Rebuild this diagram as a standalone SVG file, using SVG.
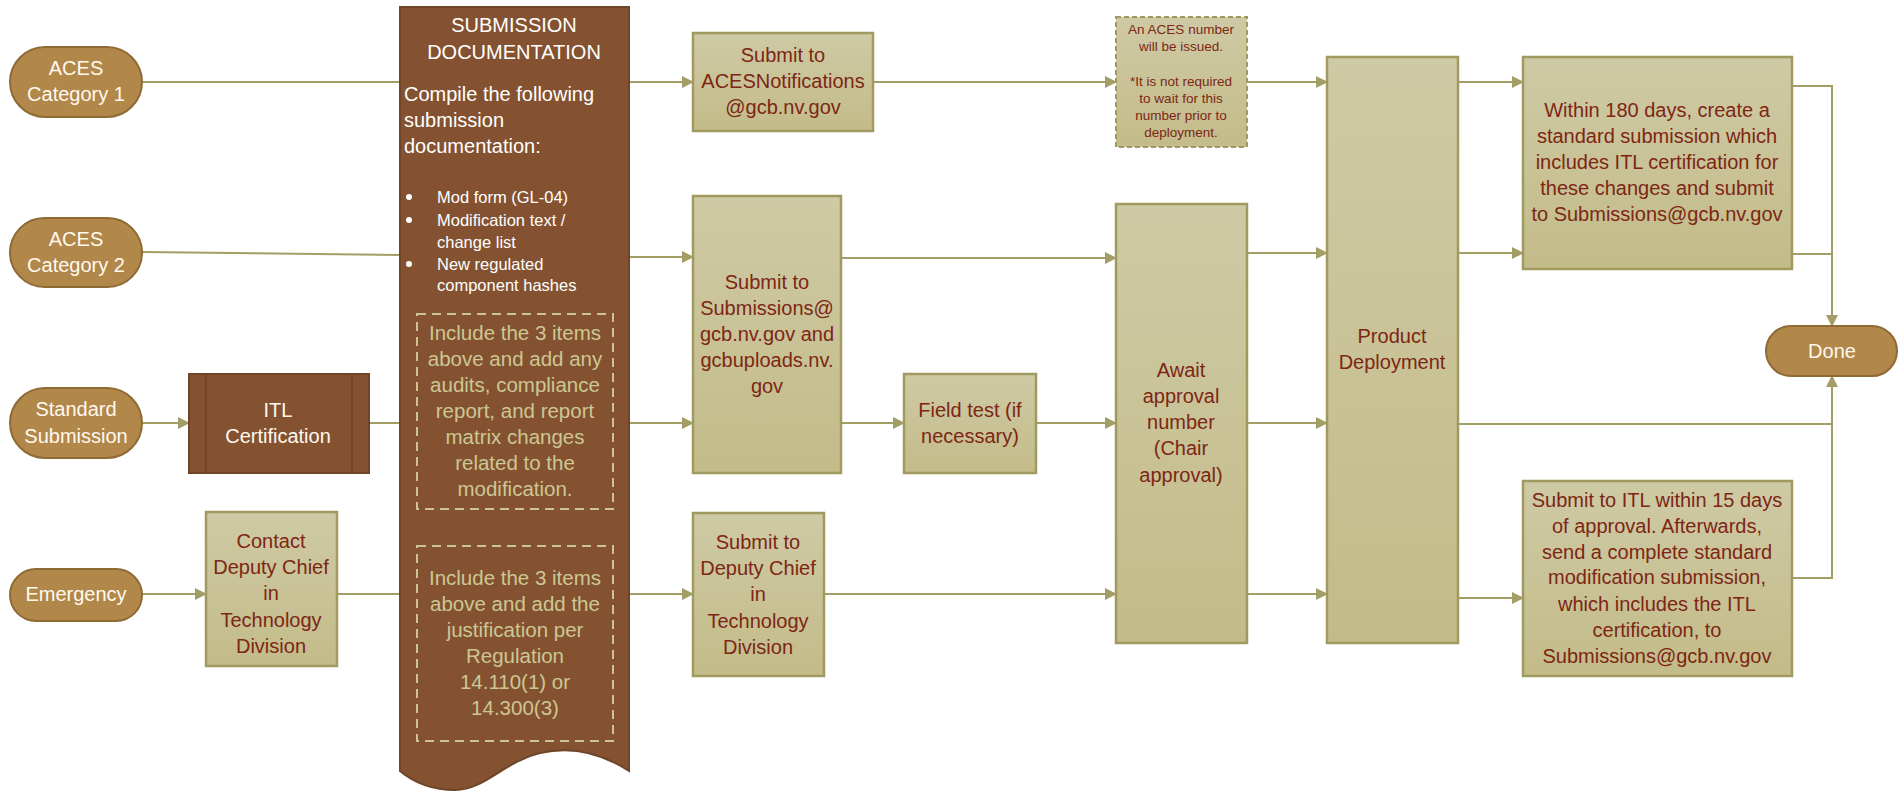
<svg xmlns="http://www.w3.org/2000/svg" width="1902" height="791" viewBox="0 0 1902 791">
<defs>
<linearGradient id="olive" x1="0" y1="0" x2="0" y2="1">
<stop offset="0" stop-color="#CECAA5"/>
<stop offset="1" stop-color="#C3BB88"/>
</linearGradient>
<marker id="arr" markerWidth="12" markerHeight="12" refX="11" refY="6" orient="auto" markerUnits="userSpaceOnUse">
<path d="M0,0 L12,6 L0,12 Z" fill="#A29E66"/>
</marker>
</defs>
<style>
text{font-family:"Liberation Sans",Arial,sans-serif;}
.pill{fill:#B2874A;stroke:#8E6A35;stroke-width:2;}
.pt{fill:#FFF9EF;font-size:20px;text-anchor:middle;}
.brown{fill:#845230;stroke:#6E4526;stroke-width:2;}
.box{fill:url(#olive);stroke:#A09A60;stroke-width:2.5;}
.note{fill:url(#olive);stroke:#A09A60;stroke-width:2;stroke-dasharray:5 3;}
.bt{fill:#7E2614;font-size:20px;text-anchor:middle;}
.nt{fill:#7E2614;font-size:13.5px;text-anchor:middle;}
.wt{fill:#FFFFFF;font-size:20px;}
.wl{fill:#FFFFFF;font-size:16.5px;}
.dash{fill:none;stroke:#CDC394;stroke-width:2;stroke-dasharray:9 6;}
.dt{fill:#CCC794;font-size:20.5px;text-anchor:middle;}
.c{fill:none;stroke:#A29E66;stroke-width:2;}
.ca{fill:none;stroke:#A29E66;stroke-width:2;marker-end:url(#arr);}
.cd{fill:none;stroke:#A29E66;stroke-width:1.2;stroke-dasharray:3 2;}
</style>

<g id="connectors">
<path class="c" d="M142,82 L400,82"/>
<path class="ca" d="M629,82 L693,82"/>
<path class="c" d="M142,252 L400,255"/>
<path class="ca" d="M629,257 L693,257"/>
<path class="ca" d="M142,423 L189,423"/>
<path class="c" d="M369,423 L400,423"/>
<path class="cd" d="M400,423 L417,423"/>
<path class="cd" d="M613,423 L629,423"/>
<path class="ca" d="M629,423 L693,423"/>
<path class="ca" d="M142,594 L206,594"/>
<path class="c" d="M337,594 L400,594"/>
<path class="cd" d="M400,594 L417,594"/>
<path class="cd" d="M613,594 L629,594"/>
<path class="ca" d="M629,594 L693,594"/>
<path class="ca" d="M873,82 L1116,82"/>
<path class="ca" d="M1247,82 L1327,82"/>
<path class="ca" d="M841,258 L1116,258"/>
<path class="ca" d="M841,423 L904,423"/>
<path class="ca" d="M1036,423 L1116,423"/>
<path class="ca" d="M824,594 L1116,594"/>
<path class="ca" d="M1247,253 L1327,253"/>
<path class="ca" d="M1247,423 L1327,423"/>
<path class="ca" d="M1247,594 L1327,594"/>
<path class="ca" d="M1458,82 L1523,82"/>
<path class="ca" d="M1458,253 L1523,253"/>
<path class="ca" d="M1458,598 L1523,598"/>
<path class="c" d="M1792,86 L1832,86 L1832,254"/>
<path class="ca" d="M1792,254 L1832,254 L1832,326"/>
<path class="c" d="M1458,424 L1832,424"/>
<path class="ca" d="M1792,578 L1832,578 L1832,376"/>
</g>

<g id="aces-cat1">
<rect class="pill" x="10" y="47" width="132" height="70" rx="35"/>
<text class="pt" x="76" y="75">ACES</text>
<text class="pt" x="76" y="101">Category 1</text>
</g>
<g id="aces-cat2">
<rect class="pill" x="10" y="218" width="132" height="69" rx="34.5"/>
<text class="pt" x="76" y="246">ACES</text>
<text class="pt" x="76" y="272">Category 2</text>
</g>
<g id="standard-submission">
<rect class="pill" x="10" y="388" width="132" height="70" rx="35"/>
<text class="pt" x="76" y="416">Standard</text>
<text class="pt" x="76" y="443">Submission</text>
</g>
<g id="emergency">
<rect class="pill" x="10" y="569" width="132" height="52" rx="26"/>
<text class="pt" x="76" y="601">Emergency</text>
</g>

<g id="itl-certification">
<rect class="brown" x="189" y="374" width="180" height="99"/>
<line x1="206" y1="374" x2="206" y2="473" stroke="#6E4526" stroke-width="2"/>
<line x1="352" y1="374" x2="352" y2="473" stroke="#6E4526" stroke-width="2"/>
<text class="pt" x="278" y="417">ITL</text>
<text class="pt" x="278" y="443">Certification</text>
</g>

<g id="contact-deputy">
<rect class="box" x="206" y="512" width="131" height="154"/>
<text class="bt" x="271" y="548">Contact</text>
<text class="bt" x="271" y="574">Deputy Chief</text>
<text class="bt" x="271" y="600">in</text>
<text class="bt" x="271" y="627">Technology</text>
<text class="bt" x="271" y="653">Division</text>
</g>

<g id="submission-documentation">
<path class="brown" d="M400,7 L629,7 L629,771 C600,752 570,746 540,753 C505,761 485,790 455,790 C430,790 412,781 400,771 Z"/>
<text class="wt" x="514" y="32" text-anchor="middle" font-size="18">SUBMISSION</text>
<text class="wt" x="514" y="59" text-anchor="middle" font-size="18">DOCUMENTATION</text>
<text class="wt" x="404" y="101">Compile the following</text>
<text class="wt" x="404" y="127">submission</text>
<text class="wt" x="404" y="153">documentation:</text>
<circle cx="409" cy="197" r="3" fill="#FFFFFF"/>
<circle cx="409" cy="220" r="3" fill="#FFFFFF"/>
<circle cx="409" cy="264" r="3" fill="#FFFFFF"/>
<text class="wl" x="437" y="203">Mod form (GL-04)</text>
<text class="wl" x="437" y="226">Modification text /</text>
<text class="wl" x="437" y="248">change list</text>
<text class="wl" x="437" y="270">New regulated</text>
<text class="wl" x="437" y="291">component hashes</text>
<rect class="dash" x="417" y="314" width="196" height="195"/>
<text class="dt" x="515" y="340">Include the 3 items</text>
<text class="dt" x="515" y="366">above and add any</text>
<text class="dt" x="515" y="392">audits, compliance</text>
<text class="dt" x="515" y="418">report, and report</text>
<text class="dt" x="515" y="444">matrix changes</text>
<text class="dt" x="515" y="470">related to the</text>
<text class="dt" x="515" y="496">modification.</text>
<rect class="dash" x="417" y="546" width="196" height="195"/>
<text class="dt" x="515" y="585">Include the 3 items</text>
<text class="dt" x="515" y="611">above and add the</text>
<text class="dt" x="515" y="637">justification per</text>
<text class="dt" x="515" y="663">Regulation</text>
<text class="dt" x="515" y="689">14.110(1) or</text>
<text class="dt" x="515" y="715">14.300(3)</text>
</g>

<g id="submit-aces-notifications">
<rect class="box" x="693" y="33" width="180" height="98"/>
<text class="bt" x="783" y="62">Submit to</text>
<text class="bt" x="783" y="88">ACESNotifications</text>
<text class="bt" x="783" y="114">@gcb.nv.gov</text>
</g>

<g id="submit-submissions">
<rect class="box" x="693" y="196" width="148" height="277"/>
<text class="bt" x="767" y="289">Submit to</text>
<text class="bt" x="767" y="315">Submissions@</text>
<text class="bt" x="767" y="341">gcb.nv.gov and</text>
<text class="bt" x="767" y="367">gcbuploads.nv.</text>
<text class="bt" x="767" y="393">gov</text>
</g>

<g id="submit-deputy">
<rect class="box" x="693" y="513" width="131" height="163"/>
<text class="bt" x="758" y="549">Submit to</text>
<text class="bt" x="758" y="575">Deputy Chief</text>
<text class="bt" x="758" y="601">in</text>
<text class="bt" x="758" y="628">Technology</text>
<text class="bt" x="758" y="654">Division</text>
</g>

<g id="field-test">
<rect class="box" x="904" y="374" width="132" height="99"/>
<text class="bt" x="970" y="417">Field test (if</text>
<text class="bt" x="970" y="443">necessary)</text>
</g>

<g id="aces-number-note">
<rect class="note" x="1116" y="17" width="131" height="130"/>
<text class="nt" x="1181" y="34">An ACES number</text>
<text class="nt" x="1181" y="51">will be issued.</text>
<text class="nt" x="1181" y="86">*It is not required</text>
<text class="nt" x="1181" y="103">to wait for this</text>
<text class="nt" x="1181" y="120">number prior to</text>
<text class="nt" x="1181" y="137">deployment.</text>
</g>

<g id="await-approval">
<rect class="box" x="1116" y="204" width="131" height="439"/>
<text class="bt" x="1181" y="377">Await</text>
<text class="bt" x="1181" y="403">approval</text>
<text class="bt" x="1181" y="429">number</text>
<text class="bt" x="1181" y="455">(Chair</text>
<text class="bt" x="1181" y="482">approval)</text>
</g>

<g id="product-deployment">
<rect class="box" x="1327" y="57" width="131" height="586"/>
<text class="bt" x="1392" y="343">Product</text>
<text class="bt" x="1392" y="369">Deployment</text>
</g>

<g id="within-180">
<rect class="box" x="1523" y="57" width="269" height="212"/>
<text class="bt" x="1657" y="117">Within 180 days, create a</text>
<text class="bt" x="1657" y="143">standard submission which</text>
<text class="bt" x="1657" y="169">includes ITL certification for</text>
<text class="bt" x="1657" y="195">these changes and submit</text>
<text class="bt" x="1657" y="221">to Submissions@gcb.nv.gov</text>
</g>

<g id="submit-itl">
<rect class="box" x="1523" y="481" width="269" height="195"/>
<text class="bt" x="1657" y="507">Submit to ITL within 15 days</text>
<text class="bt" x="1657" y="533">of approval. Afterwards,</text>
<text class="bt" x="1657" y="559">send a complete standard</text>
<text class="bt" x="1657" y="584">modification submission,</text>
<text class="bt" x="1657" y="611">which includes the ITL</text>
<text class="bt" x="1657" y="637">certification, to</text>
<text class="bt" x="1657" y="663">Submissions@gcb.nv.gov</text>
</g>

<g id="done">
<rect class="pill" x="1766" y="326" width="131" height="50" rx="25"/>
<text class="pt" x="1832" y="358">Done</text>
</g>
</svg>
